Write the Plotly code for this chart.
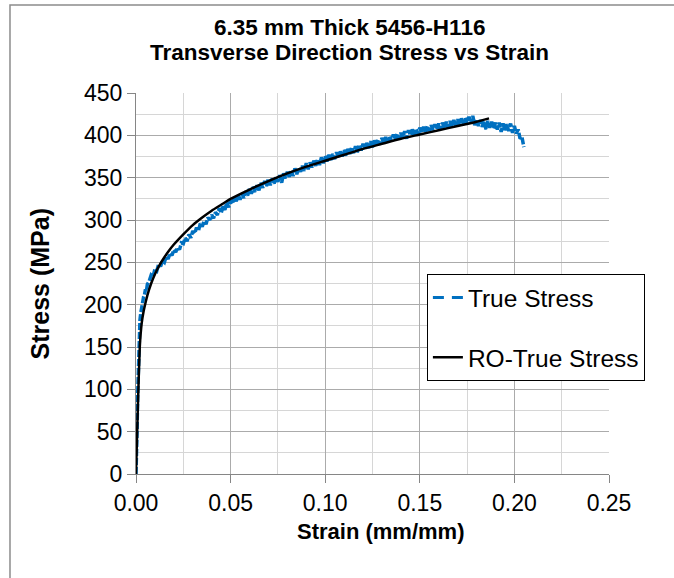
import plotly.graph_objects as go

# Measured true stress-strain data (strain in mm/mm, stress in MPa)
true_strain = [
    0.0000, 0.0003, 0.0006, 0.0009, 0.0012, 0.0015, 0.0018, 0.0021, 0.0025, 0.0030,
    0.0035, 0.0040, 0.0045, 0.0050, 0.0055, 0.0060, 0.0070, 0.0080, 0.0090, 0.0100,
    0.0110, 0.0120, 0.0130, 0.0140, 0.0150, 0.0160, 0.0170, 0.0180, 0.0190, 0.0200,
    0.0210, 0.0220, 0.0230, 0.0240, 0.0250, 0.0260, 0.0270, 0.0280, 0.0290, 0.0300,
    0.0310, 0.0320, 0.0330, 0.0340, 0.0350, 0.0360, 0.0370, 0.0380, 0.0390, 0.0400,
    0.0410, 0.0420, 0.0430, 0.0440, 0.0450, 0.0460, 0.0470, 0.0480, 0.0490, 0.0500,
    0.051, 0.052, 0.053, 0.054, 0.055, 0.056, 0.057, 0.058, 0.059, 0.060,
    0.061, 0.062, 0.063, 0.064, 0.065, 0.066, 0.067, 0.068, 0.069, 0.070,
    0.071, 0.072, 0.073, 0.074, 0.075, 0.076, 0.077, 0.078, 0.079, 0.080,
    0.081, 0.082, 0.083, 0.084, 0.085, 0.086, 0.087, 0.088, 0.089, 0.090,
    0.091, 0.092, 0.093, 0.094, 0.095, 0.096, 0.097, 0.098, 0.099, 0.100,
    0.101, 0.102, 0.103, 0.104, 0.105, 0.106, 0.107, 0.108, 0.109, 0.110,
    0.111, 0.112, 0.113, 0.114, 0.115, 0.116, 0.117, 0.118, 0.119, 0.120,
    0.121, 0.122, 0.123, 0.124, 0.125, 0.126, 0.127, 0.128, 0.129, 0.130,
    0.131, 0.132, 0.133, 0.134, 0.135, 0.136, 0.137, 0.138, 0.139, 0.140,
    0.141, 0.142, 0.143, 0.144, 0.145, 0.146, 0.147, 0.148, 0.149, 0.150,
    0.151, 0.152, 0.153, 0.154, 0.155, 0.156, 0.157, 0.158, 0.159, 0.160,
    0.161, 0.162, 0.163, 0.164, 0.165, 0.166, 0.167, 0.168, 0.169, 0.170,
    0.171, 0.172, 0.173, 0.174, 0.175, 0.176, 0.177, 0.178, 0.179, 0.180,
    0.181, 0.182, 0.183, 0.184, 0.185, 0.186, 0.187, 0.188, 0.189, 0.190,
    0.191, 0.192, 0.193, 0.194, 0.195, 0.196, 0.197, 0.198, 0.199, 0.200,
    0.201, 0.202, 0.203, 0.204, 0.205,
]
true_stress = [
    0, 20, 55, 95, 130, 155, 170, 182, 190, 198,
    203, 209, 212, 218, 216, 224, 228, 235, 233, 242,
    240, 248, 245, 252, 250, 257, 254, 261, 258, 265,
    262, 268, 265, 273, 272, 279, 275, 283, 279, 287,
    284, 291, 287, 296, 292, 299, 295, 303, 300, 306,
    302, 309, 306, 314, 308, 316, 312, 321, 315, 323,
    319, 327, 322, 330, 324, 331, 326, 334, 329, 337,
    331, 339, 333, 341, 335, 344, 338, 346, 340, 349,
    341, 349, 343, 351, 345, 353, 344, 355, 349, 357,
    351, 359, 352, 361, 354, 362, 357, 364, 358, 367,
    360, 368, 362, 370, 364, 372, 365, 374, 367, 376,
    369, 377, 371, 378, 372, 380, 373, 381, 375, 383,
    376, 384, 378, 386, 379, 387, 380, 389, 382, 390,
    384, 391, 385, 393, 386, 394, 388, 395, 389, 397,
    390, 398, 392, 399, 393, 401, 394, 402, 396, 403,
    397, 405, 396, 406, 400, 407, 401, 408, 402, 409,
    403, 410, 404, 411, 405, 412, 406, 413, 407, 414,
    407, 415, 408, 416, 409, 417, 410, 418, 411, 419,
    412, 420, 413, 421, 414, 422, 414, 423, 412, 419,
    411, 418, 410, 417, 407, 417, 409, 416, 408, 415,
    407, 415, 404, 414, 406, 413, 405, 414, 403, 411,
    402, 407, 396, 398, 386,
]

# Ramberg-Osgood fit of the true stress curve
ro_strain = [
    0.0000, 0.0010, 0.0020, 0.0030, 0.0040, 0.0050, 0.0060, 0.0080, 0.0100, 0.0125,
    0.0150, 0.0175, 0.0200, 0.0250, 0.0300, 0.0350, 0.0400, 0.0450, 0.0500, 0.0600,
    0.0700, 0.0800, 0.0900, 0.1000, 0.1100, 0.1200, 0.1300, 0.1400, 0.1500, 0.1600,
    0.1700, 0.1800, 0.1866,
]
ro_stress = [
    0, 80, 150, 178, 192, 202, 211, 225, 236, 247,
    256, 264, 271, 283, 294, 303, 311, 318, 325, 336,
    346, 355, 363, 370, 377, 384, 390, 396, 401, 406,
    411, 416, 420,
]

FONT = "Arial, Liberation Sans, sans-serif"
BLUE = "#0070C0"

fig = go.Figure()
# Dense noisy test record: short gaps so the dashed trace reads as a ragged band
fig.add_trace(go.Scatter(
    x=true_strain, y=true_stress, mode="lines", name="True Stress",
    line=dict(color=BLUE, width=3.5, dash="7px,2px"),
    showlegend=False, legendgroup="a",
))
# Legend key for the test record
fig.add_trace(go.Scatter(
    x=[None], y=[None], mode="lines", name="True Stress",
    line=dict(color=BLUE, width=3, dash="11px,8px"),
    legendgroup="a",
))
fig.add_trace(go.Scatter(
    x=ro_strain, y=ro_stress, mode="lines", name="RO-True Stress",
    line=dict(color="black", width=2.5, shape="spline", smoothing=0.5),
    legendgroup="b",
))

axis_common = dict(
    showline=True, linecolor="#868686", linewidth=1,
    ticks="outside", ticklen=8, tickcolor="#868686",
    gridcolor="#ABABAB", gridwidth=1,
    zeroline=False,
    tickfont=dict(family=FONT, size=23, color="black"),
)

fig.update_xaxes(
    range=[0, 0.25], tick0=0, dtick=0.05, tickformat=".2f",
    minor=dict(dtick=0.025, showgrid=True, gridcolor="#D6D6D6", ticks=""),
    **axis_common,
)
fig.update_yaxes(
    range=[0, 450], tick0=0, dtick=50,
    minor=dict(dtick=25, showgrid=True, gridcolor="#D6D6D6", ticks=""),
    **axis_common,
)

fig.update_layout(
    width=674, height=578,
    margin=dict(l=136, r=65, t=93, b=104),
    paper_bgcolor="white", plot_bgcolor="white",
    font=dict(family=FONT, color="black"),
    showlegend=True,
    legend=dict(
        x=0.615, y=0.525, xanchor="left", yanchor="top",
        bgcolor="white", bordercolor="black", borderwidth=1,
        font=dict(family=FONT, size=24.5, color="black"),
        traceorder="grouped", tracegroupgap=25,
        itemwidth=30,
    ),
    annotations=[
        dict(text="<b>6.35 mm Thick 5456-H116</b>",
             xref="paper", yref="paper", x=0.452, y=1.173, xanchor="center", yanchor="middle",
             showarrow=False, font=dict(family=FONT, size=22.5, color="black")),
        dict(text="<b>Transverse Direction Stress vs Strain</b>",
             xref="paper", yref="paper", x=0.452, y=1.106, xanchor="center", yanchor="middle",
             showarrow=False, font=dict(family=FONT, size=22.5, color="black")),
        dict(text="<b>Strain (mm/mm)</b>", xref="paper", yref="paper",
             x=0.516, y=-0.152, xanchor="center", yanchor="middle",
             showarrow=False, font=dict(family=FONT, size=22, color="black")),
        dict(text="<b>Stress (MPa)</b>", xref="paper", yref="paper",
             x=-0.203, y=0.5, xanchor="center", yanchor="middle", textangle=-90,
             showarrow=False, font=dict(family=FONT, size=25, color="black")),
    ],
    shapes=[
        dict(type="rect", xref="paper", yref="paper",
             x0=-0.2664, y0=-0.3, x1=1.3, y1=1.231,
             line=dict(color="#8C8C8C", width=1.5), fillcolor="rgba(0,0,0,0)", layer="below"),
    ],
)

fig.write_html("out.html")
